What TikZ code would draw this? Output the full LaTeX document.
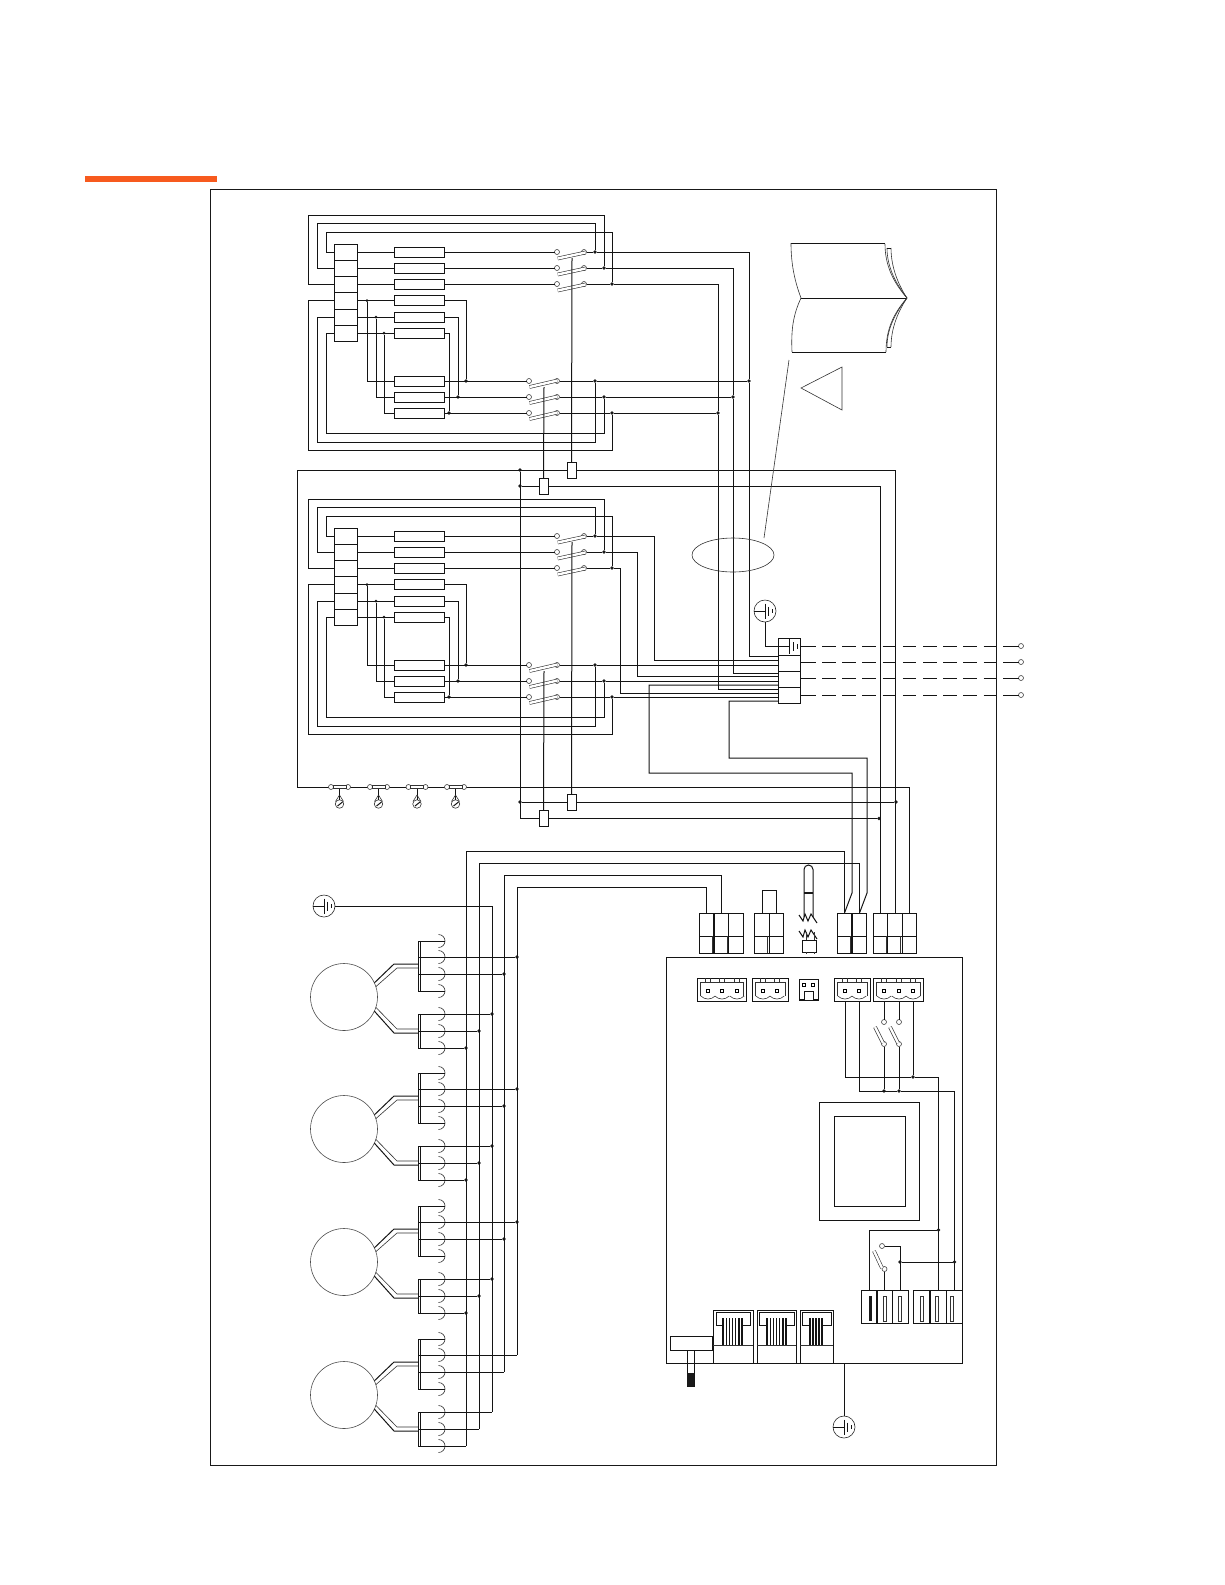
\documentclass[tikz,border=0pt]{standalone}
\usepackage{tikz}
\usetikzlibrary{shapes.geometric}
\definecolor{barorange}{RGB}{247,90,30}
\tikzset{
wire/.style={line width=1pt,black!92},
thinline/.style={line width=0.6pt,black!80},
cellbox/.style={rectangle,draw,line width=1pt,black!92,inner sep=0,outer sep=0},
bankcell/.style={cellbox,minimum width=23pt,minimum height=16pt},
resbox/.style={cellbox,minimum width=50pt,minimum height=10pt},
relaybox/.style={cellbox,minimum width=9pt,minimum height=16pt},
plugtop/.style={cellbox,minimum width=14.7pt,minimum height=23pt},
plugbot/.style={cellbox,minimum width=14.7pt,minimum height=17pt},
slotcell/.style={cellbox,minimum width=16pt,minimum height=33pt},
term/.style={circle,draw,line width=0.6pt,black!75,fill=white,minimum size=5pt,inner sep=0,outer sep=0},
dot/.style={circle,fill,black!90,minimum size=3.8pt,inner sep=0,outer sep=0},
cornerpt/.style={circle,minimum size=0pt,inner sep=0,outer sep=0},
blade/.style={line width=0.6pt,black!80,double=white,double distance=2.4pt},
pinbox/.style={rectangle,draw,line width=0.6pt,minimum size=2.6pt,inner sep=0,outer sep=0}
}
\newcommand{\earthsym}[3]{
\node at (#2,#3)[circle,draw,line width=0.6pt,black!85,minimum size=22pt,inner sep=0,outer sep=0](#1){};
\draw[wire] (#1.west) -- (#1.center);
\draw[wire] (#2,#3-7.5) -- (#2,#3+7.5);
\draw[wire] (#2+3.8,#3-4.5) -- (#2+3.8,#3+4.5);
\draw[wire] (#2+7.4,#3-2) -- (#2+7.4,#3+2);
}
\newcommand{\heaterbank}[2]{
\begin{scope}[yshift=#2pt]
\foreach \i/\yy/\hh in {1/252/16,2/268/16,3/284/16,4/300.5/17,5/317/16,6/333/16}{
\node at (345.5,\yy)[bankcell,minimum height=\hh pt](#1c\i){};
\node at (419,\yy)[resbox](#1r\i){};
}
\foreach \i/\yy in {7/381,8/397,9/413}{
\node at (419,\yy)[resbox](#1r\i){};
}
\foreach \i/\yy/\xj in {1/252/595,2/268/604,3/284/612}{
\node at (557,\yy)[term](#1a\i){};
\node at (584,\yy)[term](#1b\i){};
\node at (\xj,\yy)[dot](#1j\i){};
\draw[blade] (557.7,\yy+6.5) -- (585.5,\yy+0.5);
\draw[wire] (#1c\i.east) -- (#1r\i.west);
\draw[wire] (#1r\i.east) -- (#1a\i);
\draw[wire] (#1b\i) -- (#1j\i);
}
\foreach \i/\yy/\xj/\xk in {7/381/595/466,8/397/604/458,9/413/612/449}{
\node at (529,\yy)[term](#1a\i){};
\node at (557,\yy)[term](#1b\i){};
\node at (\xj,\yy)[dot](#1j\i){};
\node at (\xk,\yy)[dot](#1k\i){};
\draw[blade] (529.5,\yy+6) -- (557.5,\yy-0.5);
\draw[wire] (#1r\i.east) -- (#1a\i);
\draw[wire] (#1b\i) -- (#1j\i);
}
\foreach \i/\yy/\xn in {4/300.5/367,5/317/376,6/333/384}{
\node at (\xn,\yy)[dot,minimum size=3pt](#1n\i){};
\draw[wire] (#1c\i.east) -- (#1r\i.west);
}
\draw[wire] (#1n4) |- (#1r7.west);
\draw[wire] (#1n5) |- (#1r8.west);
\draw[wire] (#1n6) |- (#1r9.west);
\draw[wire] (#1r4.east) -| (#1k7);
\draw[wire] (#1r5.east) -| (#1k8);
\draw[wire] (#1r6.east) -| (#1k9);
\draw[wire] (#1c1.west) -| (326,232) -| (#1j3);
\draw[wire] (#1c2.west) -| (317,223) -| (#1j1);
\draw[wire] (#1c3.west) -| (308,215) -| (#1j2);
\draw[wire] (#1c4.west) -| (308,450) -| (#1j9);
\draw[wire] (#1c5.west) -| (317,442) -| (#1j7);
\draw[wire] (#1c6.west) -| (326,433) -| (#1j8);
\coordinate (#1p) at (572,258);
\coordinate (#1q) at (544,387);
\end{scope}
}
\newcommand{\screwblock}[4]{
\draw[wire] (#2,978) rectangle (#3,1001);
\draw[thinline] (#2+3,996) -- (#2+3,982) -- (#3-3,982) -- (#3-3,996);
\foreach \x [count=\i] in {#4}{
\node at (\x,991)[pinbox](#1p\i){};
\coordinate (#1w\i) at (\x,1001);
\draw[thinline] (\x-2.4,978) -- (\x-2.4,982);
\draw[thinline] (\x+2.4,978) -- (\x+2.4,982);
\draw[thinline] (\x-7.2,996) .. controls (\x-3,1000) and (\x+3,1000) .. (\x+7.2,996);
}
}
\newcommand{\rjack}[8]{
\draw[wire] (#2,1310) rectangle (#3,1363);
\node at ({(#2+#3)/2},1345)[cornerpt](#1){};
\draw[thinline] (#2,1345) -- (#3,1345);
\draw[wire] (#6,1345) -- (#6,1325) -- (#4,1325) -- (#4,1312) -- (#5,1312) -- (#5,1325) -- (#7,1325) -- (#7,1345);
\foreach \x in {#8}{
\draw[line width=1.3pt,black!92] (\x,1318) -- (\x,1345);
}
}
\begin{document}
\begin{tikzpicture}[x=1pt,y=-1pt]
\useasboundingbox (0,0) rectangle (1225,1585);
\fill[barorange] (85,176) rectangle (217,182);
\draw[line width=1pt,black!90] (210,189) rectangle (996.5,1465);
\heaterbank{t}{0}
\heaterbank{b}{-284}
\node at (789,646.5)[cellbox,minimum width=22pt,minimum height=17pt](bc1){};
\node at (789,663)[cellbox,minimum width=22pt,minimum height=16pt](bc2){};
\node at (789,679)[cellbox,minimum width=22pt,minimum height=16pt](bc3){};
\node at (789,695)[cellbox,minimum width=22pt,minimum height=16pt](bc4){};
\foreach \n/\yy in {p646/646,p656/656,p660/660,p665/665,p673/673,p676/676,p681/681,p685/685,p689/689,p693/693,p697/697,p701/701}{
\coordinate (\n) at (778,\yy);
}
\draw[wire] (p646) -- (789,646);
\draw[wire] (789,639) -- (789,654);
\draw[wire] (793,642) -- (793,651);
\draw[wire] (797,644) -- (797,649);
\node at (749,381)[dot](tv1){};
\node at (733,397)[dot](tv2){};
\node at (718,413)[dot](tv3){};
\draw[wire] (tj1) -| (tv1) |- (p656);
\draw[wire] (tj2) -| (tv2) |- (p673);
\draw[wire] (tj3) -| (tv3) |- (p689);
\draw[wire] (tj7) -- (tv1);
\draw[wire] (tj8) -- (tv2);
\draw[wire] (tj9) -- (tv3);
\coordinate (bv1) at (654,536);
\coordinate (bv2) at (637,552);
\coordinate (bv3) at (620,568);
\draw[wire] (bj1) -- (bv1) |- (p660);
\draw[wire] (bj2) -- (bv2) |- (p676);
\draw[wire] (bj3) -- (bv3) |- (p693);
\draw[wire] (bj7) -- (p665);
\draw[wire] (bj8) -- (p681);
\draw[wire] (bj9) -- (p697);
\earthsym{gt}{765}{611}
\draw[wire] (gt.south) |- (p646);
\foreach \i/\yy in {1/646,2/662,3/678,4/695}{
\coordinate (ds\i) at (816,\yy);
\coordinate (dt\i) at (822,\yy);
\coordinate (du\i) at (996,\yy);
\coordinate (dv\i) at (1003,\yy);
\node at (1021,\yy)[term](lt\i){};
\draw[wire] (bc\i.east |- ds\i) -- (ds\i);
\draw[wire,dash pattern=on 13.5pt off 6.7pt] (dt\i) -- (du\i);
\draw[wire] (dv\i) -- (lt\i);
}
\foreach \n/\x in {a1/706.5,a2/721.5,a3/736,b1/762,b2/776.5,d1/844.5,d2/859.5,e1/880.5,e2/895,e3/909.5}{
\node at (\x,924.5)[plugtop](\n){};
\node at (\x,944.5)[plugbot](\n l){};
}
\foreach \x in {712,727,767.5,850,886,900.5}{
\draw[thinline] (\x,936) -- (\x,953);
}
\node at (571.5,470)[relaybox](ru1){};
\node at (543.5,486)[relaybox](rl1){};
\node at (571.5,802)[relaybox](ru2){};
\node at (543.5,818.5)[relaybox](rl2){};
\node at (520,470)[dot](ja){};
\node at (520,486)[dot](jb){};
\node at (520,802)[dot](jc){};
\node at (896,802)[dot](jd){};
\node at (879,818.5)[dot](je){};
\coordinate (fa) at (297,787);
\draw[wire] (tp) -- (ru1.north);
\draw[wire] (tq) -- (rl1.north);
\draw[wire] (bp) -- (ru2.north);
\draw[wire] (bq) -- (rl2.north);
\draw[wire] (ru1.west) -| (fa) -| (e3.north);
\draw[wire] (ru1.east) -| (e2.north);
\draw[wire] (rl1.east) -| (e1.north);
\draw[wire] (rl1.west) -- (jb);
\draw[wire] (ja) |- (rl2.west);
\draw[wire] (jc) -- (ru2.west);
\draw[wire] (ru2.east) -- (jd);
\draw[wire] (rl2.east) -- (je);
\foreach \i/\x in {1/339.5,2/378.5,3/417,4/455.5}{
\node at (\x-8.5,787)[term](la\i){};
\node at (\x+8.5,787)[term](lb\i){};
\node at (\x,787)[rectangle,draw,thinline,fill=white,minimum width=13pt,minimum height=3pt,inner sep=0](lc\i){};
\node at (\x,804)[circle,draw,thinline,minimum size=8.5pt,inner sep=0,outer sep=0](ld\i){};
\draw[wire] (lc\i.south) -- (ld\i.north);
\draw[thinline] (\x-4,801.5) -- (\x,795);
\draw[thinline] (\x+4,801.5) -- (\x,795);
\draw[wire] (\x-2,806) -- (\x+3,802);
}
\coordinate (sa) at (649,773);
\coordinate (sb) at (852,893);
\coordinate (sc) at (729,758);
\coordinate (sd) at (867,893);
\draw[wire] (p685) -| (sa) -| (sb) -- (d1.north);
\draw[wire] (p701) -| (sc) -| (sd) -- (d2.north);
\node at (769,901.5)[cellbox,minimum width=14pt,minimum height=23pt](kb){};
\earthsym{gm}{324}{906}
\foreach \m/\dy/\st in {1/0/dot,2/132/dot,3/265/dot,4/398/cornerpt}{
\begin{scope}[yshift=-\dy pt]
\node at (344,997)[circle,draw,line width=0.6pt,black!70,minimum size=67pt,inner sep=0,outer sep=0](mot\m){};
\draw[wire] (mot\m.25) -- (394,964) -- (418,964);
\draw[thinline] (mot\m.18) -- (397,968) -- (418,968);
\draw[wire] (mot\m.-25) -- (394,1033) -- (418,1033);
\draw[thinline] (mot\m.-18) -- (397,1029) -- (418,1029);
\draw[wire] (418,941) -- (418,991);
\draw[wire] (420,941) -- (420,991);
\draw[wire] (418,1014) -- (418,1048);
\draw[wire] (420,1014) -- (420,1048);
\foreach \yy in {941,957,974,991,1014,1031,1048}{
\draw[thinline] (438.5,\yy-6.5) arc[start angle=90,end angle=-90,radius=6.5pt];
}
\node at (517,957)[\st](mu\m){};
\node at (504,974)[\st](mv\m){};
\node at (492,1014)[\st](mw\m){};
\node at (479,1031)[\st](mx\m){};
\node at (466,1048)[\st](mz\m){};
\draw[wire] (418,941) -- (445,941);
\draw[wire] (418,991) -- (445,991);
\draw[wire] (418,957) -- (mu\m);
\draw[wire] (418,974) -- (mv\m);
\draw[wire] (418,1014) -- (mw\m);
\draw[wire] (418,1031) -- (mx\m);
\draw[wire] (418,1048) -- (mz\m);
\end{scope}
}
\coordinate (bt1) at (466,851);
\coordinate (bt2) at (479,863);
\coordinate (bt4) at (504,875);
\coordinate (bt5) at (517,887);
\draw[wire] (d1.north) |- (bt1) -- (mz4);
\draw[wire] (d2.north) |- (bt2) -- (mx4);
\draw[wire] (a2.north) |- (bt4) -- (mv4);
\draw[wire] (a1.north) |- (bt5) -- (mu4);
\draw[wire] (gm.east) -| (mw4);
\draw[wire] (804,917) -- (804,869.5) arc[start angle=180,end angle=0,radius=4.5pt] -- (813,917);
\draw[line width=1.6pt,black!90] (804,893) -- (813,893);
\draw[wire] (799,915) -- (803,921) -- (805,914) -- (808,921) -- (811,914) -- (817,923);
\draw[wire] (799,931) -- (803,937) -- (805,930) -- (808,937) -- (811,930) -- (817,939);
\node at (809,946)[cellbox,minimum width=14pt,minimum height=12pt](sn){};
\draw[thinline] (806,932) -- (806,940);
\draw[thinline] (814,932) -- (814,940);
\draw[thinline] (806,952) -- (806,953.5);
\draw[thinline] (814,952) -- (814,953.5);
\draw[wire] (666,957) rectangle (962.5,1363);
\screwblock{ta}{697}{746}{708,722,737}
\screwblock{tb}{752}{788}{763,777}
\screwblock{tc}{834}{870}{845,859}
\screwblock{td}{873}{923}{884,899,913}
\draw[wire] (799,979) rectangle (818,1000);
\draw[wire] (799,999) -- (804,999) -- (804,991) -- (813,991) -- (813,999) -- (818,999);
\node at (804,985)[pinbox](je1){};
\node at (813,985)[pinbox](je2){};
\node at (884,1022)[term](sa1){};
\node at (884,1044)[term](sa2){};
\node at (899,1022)[term](sb1){};
\node at (899,1044)[term](sb2){};
\draw[blade] (883,1043) -- (875,1027);
\draw[blade] (898,1043) -- (890,1027);
\node at (913,1077)[dot](q3){};
\node at (884,1091)[dot](q4){};
\node at (899,1091)[dot](q5){};
\draw[wire] (tdw1) -- (sa1);
\draw[wire] (tdw2) -- (sb1);
\draw[wire] (tdw3) -- (q3);
\draw[wire] (sa2) -- (q4);
\draw[wire] (sb2) -- (q5);
\foreach \n/\x in {f1/869,f2/884.5,f3/900,g1/921.5,g2/938.5,g3/954.5}{
\node at (\x,1306.5)[slotcell](\n){};
}
\foreach \x in {884.5,900,922,937,952}{
\draw[thinline] (\x-1.4,1296) rectangle (\x+1.4,1321);
}
\fill[black!90] (868.5,1296) rectangle (871.5,1321);
\draw[wire] (tcw1) |- (q3) -| (g2.north);
\draw[wire] (tcw2) |- (q5) -| (g3.north);
\draw[wire] (q4) -- (q5);
\node at (938.5,1230)[dot](q1){};
\node at (954.5,1262)[dot](q2){};
\node at (900,1262)[dot](q6){};
\node at (882,1246)[term](sc1){};
\node at (884.5,1269)[term](sc2){};
\draw[blade] (882,1268) -- (874,1251);
\draw[wire] (q1) -| (f1.north);
\draw[wire] (q2) -- (q6);
\draw[wire] (sc1) -| (f3.north);
\draw[wire] (sc2) -- (f2.north);
\draw[wire] (819,1102) rectangle (919,1220);
\draw[wire] (834,1116) rectangle (905,1206);
\rjack{ra}{713}{753}{716}{750}{723}{742}{723,726.2,729.4,732.6,735.8,739,742}
\rjack{rb}{757}{796}{759}{794}{767}{786}{767,770.2,773.4,776.6,779.8,783,786}
\rjack{rc}{800}{833}{802}{831}{810}{822}{810,813,816,819,822}
\node at (691,1343)[cellbox,minimum width=42pt,minimum height=14pt](sw){};
\draw[wire] (687,1350) -- (687,1386) -- (694,1386) -- (694,1350);
\fill[black!90] (687,1373) rectangle (694,1386);
\earthsym{gb}{844}{1427}
\coordinate (gc) at (844,1363);
\draw[wire] (gc) -- (gb.north);
\draw[wire] (791,243) -- (885,243);
\draw[wire] (801,298) -- (907,298);
\draw[wire] (792,352) -- (886,352);
\draw[thinline] (791,243) .. controls (791,265) and (795,282) .. (801,298);
\draw[thinline] (801,298) .. controls (793,315) and (791,330) .. (792,352);
\draw[thinline] (885,244) .. controls (885,265) and (893,282) .. (907,298);
\draw[thinline] (887,248) .. controls (887,267) and (896,284) .. (907,298);
\draw[thinline] (891,248) .. controls (891,268) and (899,286) .. (907,298);
\draw[wire] (887,248) -- (891,248);
\draw[thinline] (886,352) .. controls (886,330) and (893,314) .. (907,298);
\draw[thinline] (887,347) .. controls (887,328) and (896,312) .. (907,298);
\draw[thinline] (891,347) .. controls (891,327) and (899,310) .. (907,298);
\draw[wire] (887,347) -- (891,347);
\draw[thinline] (801,388) -- (842,367) -- (842,410) -- cycle;
\node at (733,555)[ellipse,draw,thinline,minimum width=82pt,minimum height=34pt,inner sep=0,outer sep=0](cable){};
\coordinate (la) at (764,538);
\coordinate (lz) at (789,360);
\draw[thinline] (la) -- (lz);
\end{tikzpicture}
\end{document}
